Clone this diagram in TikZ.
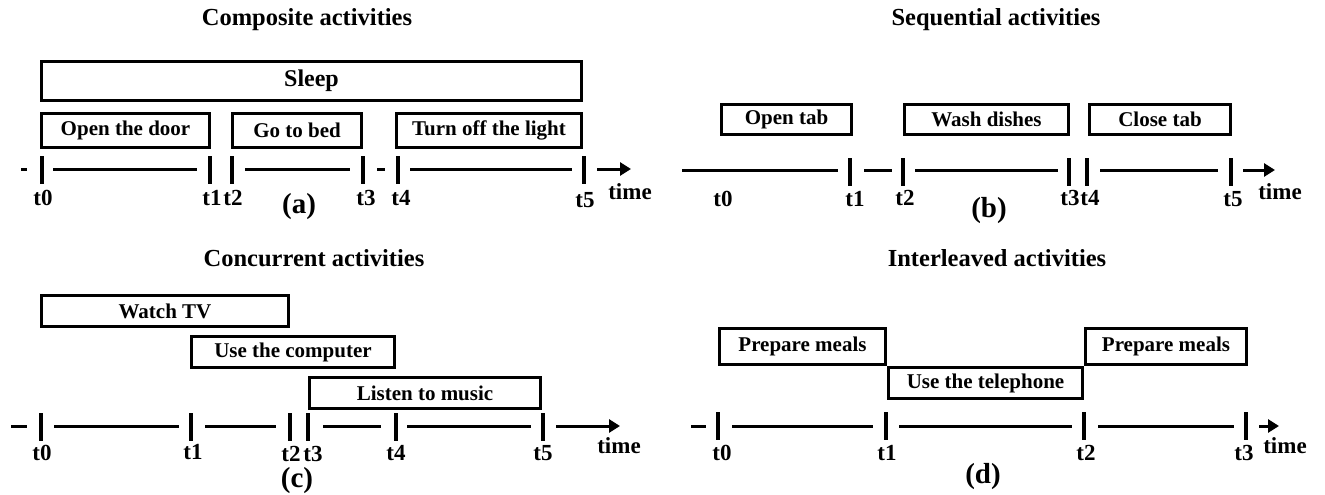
\documentclass[tikz,border=0pt]{standalone}
\usepackage{fontspec}
\setmainfont{Liberation Serif}
\usetikzlibrary{arrows.meta}
\tikzset{
  box/.style={draw, line width=3pt, inner sep=0pt, font=\fontsize{21}{24}\selectfont\bfseries},
  tk/.style={fill=black, inner sep=0pt, minimum width=4.5pt, minimum height=28pt},
  tl/.style={line width=3pt},
  tarr/.style={line width=3pt, -{Triangle[length=11pt,width=13pt]}},
  tlab/.style={anchor=base, inner sep=0pt, font=\fontsize{23}{26}\selectfont\bfseries},
  ttl/.style={anchor=base, inner sep=0pt, font=\fontsize{24.5}{28}\selectfont\bfseries},
  plab/.style={anchor=base, inner sep=0pt, font=\fontsize{29}{32}\selectfont\bfseries},
}
\begin{document}
\begin{tikzpicture}[x=1pt, y=-1pt]
\useasboundingbox (0,0) rectangle (1325,495);

% ---------------- (a) Composite ----------------
\node[ttl] (ta) at (307,26) {Composite activities};
\node[box, minimum width=540pt, minimum height=39pt, font=\fontsize{24}{27}\selectfont\bfseries] (sleep) at (311.5,81) {Sleep};
\node[box, minimum width=168pt, minimum height=34pt] (door) at (125.5,130.5) {Open the door};
\node[box, minimum width=129pt, minimum height=34pt] (bed) at (297,130.5) {Go to bed};
\node[box, minimum width=185pt, minimum height=34pt] (light) at (489,130.5) {Turn off the light};
\node[tk] (a0) at (42,170) {};
\node[tk] (a1) at (210,170) {};
\node[tk] (a2) at (232,170) {};
\node[tk] (a3) at (363,170) {};
\node[tk] (a4) at (398,170) {};
\node[tk] (a5) at (584,170) {};
\draw[tl] (21,169) -- (27,169);
\draw[tl] (53,169) -- (197,169);
\draw[tl] (245,169) -- (350,169);
\draw[tl] (377,169) -- (385,169);
\draw[tl] (410,169) -- (572,169);
\draw[tarr] (597,169) -- (631,169);
\node[tlab] (la0) at (43,205) {t0};
\node[tlab] (la1) at (212,205) {t1};
\node[tlab] (la2) at (233,205) {t2};
\node[tlab] (la3) at (366,205) {t3};
\node[tlab] (la4) at (401,205) {t4};
\node[tlab] (la5) at (585,207) {t5};
\node[tlab] (latime) at (630,199) {time};
\node[plab] (pa) at (299,213) {(a)};

% ---------------- (b) Sequential ----------------
\node[ttl] (tb) at (996,26) {Sequential activities};
\node[box, minimum width=130pt, minimum height=30pt] (opentab) at (786.5,119.5) {Open tab};
\node[box, minimum width=164pt, minimum height=30pt] (wash) at (986.5,119.5) {Wash dishes};
\node[box, minimum width=141pt, minimum height=30pt] (closetab) at (1160,119.5) {Close tab};
\node[tk] (b1) at (850,172) {};
\node[tk] (b2) at (903,172) {};
\node[tk] (b3) at (1069,172) {};
\node[tk] (b4) at (1087,172) {};
\node[tk] (b5) at (1231,172) {};
\draw[tl] (682,170) -- (838,170);
\draw[tl] (864,170) -- (892,170);
\draw[tl] (915,170) -- (1058,170);
\draw[tl] (1100,170) -- (1218,170);
\draw[tarr] (1243,170) -- (1275,170);
\node[tlab] (lb0) at (723,206) {t0};
\node[tlab] (lb1) at (855,206) {t1};
\node[tlab] (lb2) at (905,205) {t2};
\node[tlab] (lb3) at (1070,205) {t3};
\node[tlab] (lb4) at (1090,205) {t4};
\node[tlab] (lb5) at (1233,206) {t5};
\node[tlab] (lbtime) at (1280,199) {time};
\node[plab] (pb) at (989,217) {(b)};

% ---------------- (c) Concurrent ----------------
\node[ttl] (tc) at (314,266) {Concurrent activities};
\node[box, minimum width=247pt, minimum height=31pt] (watch) at (165,311) {Watch TV};
\node[box, minimum width=203pt, minimum height=31pt] (comp) at (293,352) {Use the computer};
\node[box, minimum width=231pt, minimum height=31pt] (music) at (425,393) {Listen to music};
\node[tk] (c0) at (41,427) {};
\node[tk] (c1) at (191,427) {};
\node[tk] (c2) at (290,427) {};
\node[tk] (c3) at (308,427) {};
\node[tk] (c4) at (396,427) {};
\node[tk] (c5) at (543,427) {};
\draw[tl] (11,426) -- (27,426);
\draw[tl] (54,426) -- (179,426);
\draw[tl] (205,426) -- (276,426);
\draw[tl] (323,426) -- (381,426);
\draw[tl] (407,426) -- (531,426);
\draw[tarr] (556,426) -- (620,426);
\node[tlab] (lc0) at (42,460) {t0};
\node[tlab] (lc1) at (193,459) {t1};
\node[tlab] (lc2) at (291,461) {t2};
\node[tlab] (lc3) at (313,461) {t3};
\node[tlab] (lc4) at (396,460) {t4};
\node[tlab] (lc5) at (543,460) {t5};
\node[tlab] (lctime) at (619,453) {time};
\node[plab] (pc) at (297,487) {(c)};

% ---------------- (d) Interleaved ----------------
\node[ttl] (td) at (997,266) {Interleaved activities};
\node[box, minimum width=166pt, minimum height=36pt] (pm1) at (802.5,346.5) {Prepare meals};
\node[box, minimum width=194pt, minimum height=31pt] (tel) at (985.5,383) {Use the telephone};
\node[box, minimum width=161pt, minimum height=36pt] (pm2) at (1166,346.5) {Prepare meals};
\node[tk] (d0) at (718,426) {};
\node[tk] (d1) at (886,426) {};
\node[tk] (d2) at (1084,426) {};
\node[tk] (d3) at (1246,426) {};
\draw[tl] (691,426) -- (706,426);
\draw[tl] (732,426) -- (873,426);
\draw[tl] (899,426) -- (1072,426);
\draw[tl] (1098,426) -- (1234,426);
\draw[tarr] (1259,426) -- (1279,426);
\node[tlab] (ld0) at (722,460) {t0};
\node[tlab] (ld1) at (887,460) {t1};
\node[tlab] (ld2) at (1086,460) {t2};
\node[tlab] (ld3) at (1244,460) {t3};
\node[tlab] (ldtime) at (1285,453) {time};
\node[plab] (pd) at (983,483) {(d)};
\end{tikzpicture}
\end{document}
